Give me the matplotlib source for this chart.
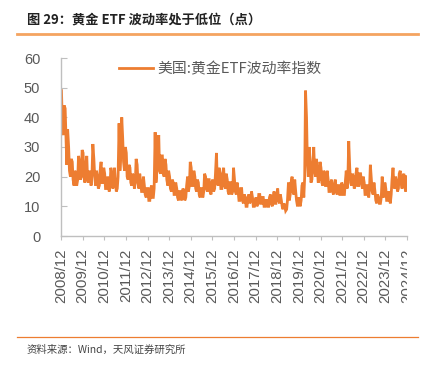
import matplotlib
matplotlib.use("Agg")
import matplotlib.pyplot as plt
import numpy as np
import pandas as pd
from matplotlib.transforms import Bbox, TransformedBbox

plt.rcParams['font.family'] = ['Noto Sans CJK SC', 'DejaVu Sans']

# Monthly low / high of the GVZ index, Dec 2008 .. Nov 2024
start_month = "2008-12"
lows = [
    38,
    34, 33, 24, 22, 20, 19, 17, 17, 19, 19, 20, 20,   # 2009
    18, 19, 18, 17, 21, 20, 17, 16, 17, 18, 18, 16,   # 2010
    16, 15, 17, 16, 17, 15, 16, 22, 28, 25, 22, 20,   # 2011
    19, 18, 17, 16, 18, 18, 16, 15, 15, 14, 13, 12,   # 2012
    12, 13, 13, 18, 22, 22, 21, 21, 20, 19, 17, 16,   # 2013
    15, 14, 14, 13, 12, 12, 13, 12, 13, 15, 17, 17,   # 2014
    17, 16, 15, 14, 13, 13, 15, 16, 15, 15, 14, 15,   # 2015
    16, 18, 17, 16, 16, 17, 16, 15, 14, 14, 15, 15,   # 2016
    14, 12, 12, 12, 11, 10, 10, 11, 12, 10, 10, 10,   # 2017
    11, 11, 11, 10, 10, 10, 10, 11, 10, 11, 11, 12,   # 2018
    11, 10, 9, 8.5, 9, 12, 14, 15, 14, 12, 10, 10,    # 2019
    12, 13, 20, 25, 20, 18, 19, 22, 20, 18, 19, 18,   # 2020
    17, 17, 17, 15, 15, 15, 14, 15, 14, 14, 14, 14,   # 2021
    14, 16, 20, 18, 17, 16, 17, 17, 17, 18, 16, 14,   # 2022
    14, 13, 16, 15, 14, 12, 11, 11, 11, 14, 13, 12,   # 2023
    12, 11, 14, 17, 16, 15, 16, 18, 16, 17, 15,       # 2024
]
highs = [
    49,
    44, 43, 36, 30, 26, 25, 22, 21, 27, 25, 29, 28,   # 2009
    24, 27, 22, 21, 31, 26, 22, 20, 22, 25, 23, 21,   # 2010
    20, 19, 23, 21, 23, 18, 20, 38, 40, 33, 30, 28,   # 2011
    24, 23, 21, 20, 26, 24, 21, 18, 20, 17, 16, 16,   # 2012
    16, 17, 16, 35, 30, 34, 27, 27, 26, 24, 22, 20,   # 2013
    19, 18, 18, 16, 15, 15, 16, 15, 17, 20, 25, 23,   # 2014
    22, 20, 19, 18, 16, 16, 21, 20, 19, 19, 18, 19,   # 2015
    21, 28, 23, 21, 21, 23, 21, 19, 18, 18, 23, 19,   # 2016
    18, 15, 16, 16, 14, 13, 13, 14, 15, 13, 12, 13,   # 2017
    14, 14, 13, 13, 12, 12, 13, 14, 13, 15, 14, 16,   # 2018
    14, 12, 11, 10, 12, 18, 18, 20, 19, 15, 13, 12,   # 2019
    17, 18, 49, 40, 30, 24, 25, 30, 26, 23, 25, 23,   # 2020
    22, 21, 22, 19, 18, 19, 17, 19, 17, 17, 18, 17,   # 2021
    18, 22, 32, 23, 21, 20, 21, 23, 21, 21, 20, 18,   # 2022
    17, 17, 24, 19, 18, 15, 14, 13, 13, 20, 18, 16,   # 2023
    15, 14, 19, 23, 20, 18, 21, 22, 20, 21, 20,       # 2024
]
year_labels = [f"{y}/12" for y in range(2008, 2025)]
series_name = "美国:黄金ETF波动率指数"
title = "图 29：黄金 ETF 波动率处于低位（点）"
source = "资料来源：Wind，天风证券研究所"

months = pd.period_range(start=start_month, periods=len(lows), freq="M")
dates, vals = [], []
for i, m in enumerate(months):
    t0 = m.to_timestamp()
    dates += [t0 + pd.Timedelta(days=8), t0 + pd.Timedelta(days=22)]
    if i % 2 == 0:
        vals += [highs[i], lows[i]]
    else:
        vals += [lows[i], highs[i]]

fig = plt.figure(figsize=(4.31, 3.65), dpi=100)
ax = fig.add_axes([61/431, 1-236/365, (407-61)/431, (236-58)/365])

ax.plot(dates, vals, color="#ED7D31", lw=2.0, label=series_name, solid_joinstyle="miter")

ax.set_ylim(0, 60)
ax.set_yticks(range(0, 61, 10))
tick_dates = [pd.Timestamp(f"{y}-12-01") for y in range(2008, 2025)]
ax.set_xlim(tick_dates[0], tick_dates[-1])
ax.set_xticks(tick_dates)
ax.set_xticklabels(year_labels, rotation=90, fontfamily="Liberation Sans")

for s in ["top", "right"]:
    ax.spines[s].set_visible(False)
for s in ["left", "bottom"]:
    ax.spines[s].set_color("#BFBFBF")
    ax.spines[s].set_linewidth(1.0)

ax.tick_params(axis="y", direction="in", length=4, color="#BFBFBF", pad=15,
               labelsize=10.5, labelcolor="#595959")
ax.tick_params(axis="x", direction="out", length=3, color="#BFBFBF", pad=6,
               labelsize=10.8, labelcolor="#595959")
for lab in ax.get_yticklabels():
    lab.set_fontfamily("Liberation Sans")

# clip the last x label at the plot's right edge as in the reference
fig.canvas.draw()
clip = TransformedBbox(Bbox([[-0.5, -2], [1.0, 1]]), ax.transAxes)
for lab in ax.get_xticklabels():
    lab.set_clip_box(clip)
    lab.set_clip_on(True)

leg = ax.legend(loc="upper left", bbox_to_anchor=(0.129, 1.05), frameon=False,
                handlelength=2.3, handletextpad=0.3,
                prop={"size": 10.7, "family": ["Noto Sans CJK SC", "DejaVu Sans"]})
for t in leg.get_texts():
    t.set_color("#595959")

fig.text(27/431, 1-20/365, title, fontsize=9.5, fontweight="bold", color="#222222",
         va="center", ha="left")
fig.add_artist(plt.Line2D([17/431, 418/431], [1-34/365, 1-34/365], color="#F4A460", lw=2))
fig.add_artist(plt.Line2D([17/431, 418/431], [1-337/365, 1-337/365], color="#ED7D31", lw=0.9))
fig.text(27/431, 1-350/365, source, fontsize=7.5, color="#444444", va="center", ha="left")

fig.savefig("out.png", dpi=100)
